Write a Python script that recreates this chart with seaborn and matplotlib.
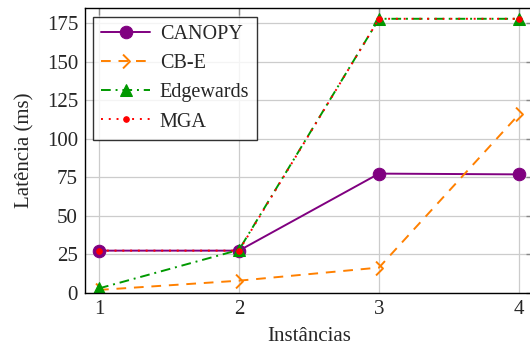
import numpy as np
import pandas as pd
import matplotlib
matplotlib.use('Agg')
import matplotlib.pyplot as plt
from matplotlib.path import Path
import seaborn as sns

# Data
instancias = [1, 2, 3, 4]
canopy = [27.5, 27.5, 77.5, 77.0]
cbe = [2.0, 8.0, 16.5, 116.0]
edgewards = [3.0, 28.0, 178.0, 178.0]
mga = [27.5, 27.5, 178.0, 178.0]
y_ticks = [0, 25, 50, 75, 100, 125, 150, 175]

sns.set_style('white')
plt.rcParams['font.family'] = ['Liberation Serif', 'DejaVu Serif']

fig = plt.figure(figsize=(5.3, 3.5), dpi=100)
ax = fig.add_axes([85/530, (350-293)/350, (533-85)/530, (293-8)/350])

chevron = Path([(-0.5, 1), (0.5, 0), (-0.5, -1)],
               [Path.MOVETO, Path.LINETO, Path.LINETO])

purple = '#800080'
orange = '#ff8000'
green = '#009900'
red = '#ff0000'

sns.lineplot(x=instancias, y=canopy, ax=ax, color=purple, linewidth=1.4,
             marker='o', markersize=9, markeredgecolor=purple, label='CANOPY')
sns.lineplot(x=instancias, y=cbe, ax=ax, color=orange, linewidth=1.4,
             linestyle=(0, (5, 4)), marker=chevron, markersize=10,
             markerfacecolor='none', markeredgecolor=orange,
             markeredgewidth=1.4, label='CB-E')
sns.lineplot(x=instancias, y=edgewards, ax=ax, color=green, linewidth=1.4,
             linestyle=(0, (5, 2.5, 1, 2.5)), marker='^', markersize=9,
             markeredgecolor=green, label='Edgewards')
sns.lineplot(x=instancias, y=mga, ax=ax, color=red, linewidth=1.4,
             linestyle=(0, (1, 3)), marker='o', markersize=4,
             markeredgecolor=red, label='MGA')

ax.set_xlim(0.9, 4.1)
ax.set_ylim(0, 185)
ax.set_xticks(instancias)
ax.set_yticks(y_ticks)
ax.grid(True, color='#cccccc', linewidth=0.9)
ax.set_axisbelow(True)
for s in ax.spines.values():
    s.set_color('black')
    s.set_linewidth(1.0)
ax.tick_params(direction='in', length=5, color='#888888', width=1,
               top=True, right=True, labelsize=15, pad=5)
ax.set_xlabel('Instâncias', fontsize=15, labelpad=6)
ax.set_ylabel('Latência (ms)', fontsize=15, labelpad=9)

leg = ax.legend(loc='upper left', bbox_to_anchor=(0.005, 0.99), fontsize=14.5,
                frameon=True, fancybox=False, edgecolor='black',
                handlelength=2.4, labelspacing=0.5, borderpad=0.4,
                handletextpad=0.5, borderaxespad=0.3)
leg.get_frame().set_linewidth(1.0)

fig.savefig('out.png', dpi=100)
